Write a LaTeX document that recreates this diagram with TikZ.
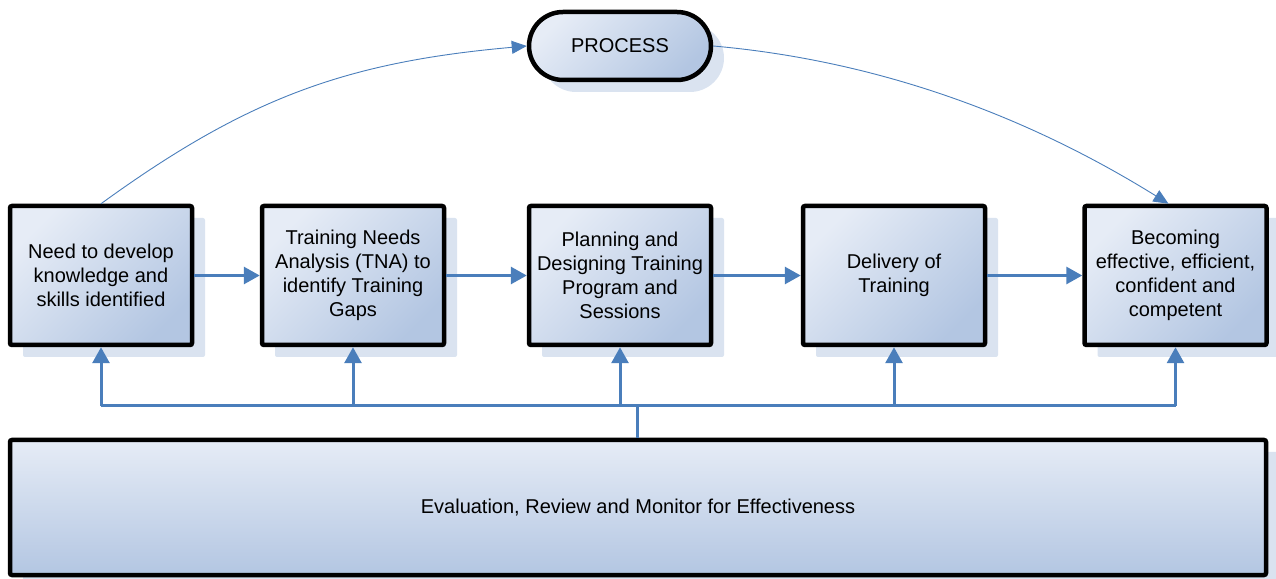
\documentclass[tikz,border=0pt]{standalone}
\usepackage{fontspec}
\setmainfont{Liberation Sans}
\usetikzlibrary{arrows.meta,shapes.misc,shadows}
\definecolor{conn}{HTML}{4A7EBB}
\definecolor{boxlight}{HTML}{E6ECF6}
\definecolor{boxdark}{HTML}{B3C6E2}
\definecolor{shadowc}{HTML}{DAE3F0}
\tikzset{
  basebox/.style={draw=black, line width=4.5pt, inner sep=0pt, align=center,
    font=\fontsize{20}{24}\selectfont,
    drop shadow={shadow xshift=13pt, shadow yshift=-12pt, fill=shadowc, opacity=1}},
  stage/.style={basebox, rounded corners=2pt, minimum width=182pt, minimum height=139pt,
    top color=boxlight, bottom color=boxdark, shading angle=45},
  pill/.style={basebox, rounded rectangle, minimum width=182pt, minimum height=68pt,
    top color=boxlight, bottom color=boxdark, shading angle=45},
  evalbox/.style={basebox, rounded corners=2pt, minimum width=1256pt, minimum height=135pt,
    top color=boxlight, bottom color=boxdark},
  flow/.style={draw=conn, line width=3pt, -{Triangle[length=16pt,width=17pt]}},
  feed/.style={draw=conn, line width=3pt},
  arc/.style={draw=conn, line width=0.9pt, -{Triangle[length=15pt,width=13pt]}}
}
\begin{document}
\begin{tikzpicture}[x=1pt,y=1pt]
\useasboundingbox (0,0) rectangle (1276,578);
\node[pill] (proc) at (620,532) {PROCESS};
\node[stage] (b1) at (101,302.5) {Need to develop\\knowledge and\\skills identified};
\node[stage] (b2) at (353,302.5) {Training Needs\\Analysis (TNA) to\\identify Training\\Gaps};
\node[stage] (b3) at (620,302.5) {Planning and\\Designing Training\\Program and\\Sessions};
\node[stage] (b4) at (894,302.5) {Delivery of\\Training};
\node[stage] (b5) at (1175.5,302.5) {Becoming\\effective, efficient,\\confident and\\competent};
\node[evalbox] (ev) at (638,70.5) {Evaluation, Review and Monitor for Effectiveness};
\coordinate (fb) at (637,172);
% horizontal flow
\draw[flow] (b1.east) -- (b2.west);
\draw[flow] (b2.east) -- (b3.west);
\draw[flow] (b3.east) -- (b4.west);
\draw[flow] (b4.east) -- (b5.west);
% feedback
\draw[feed] (ev.north -| fb) -- (fb);
\draw[feed] (b1.south |- fb) -- (b5.south |- fb);
\foreach \b in {b1,b2,b3,b4,b5}{
  \draw[flow] (\b.south |- fb) -- (\b.south);
}
% arcs
\draw[arc] (b1.north) .. controls +(146,106) and +(-180,-16) .. (proc.west);
\draw[arc] (proc.east) .. controls +(180,-16) and +(-127,79) .. ([xshift=-7pt]b5.north);
\end{tikzpicture}
\end{document}
